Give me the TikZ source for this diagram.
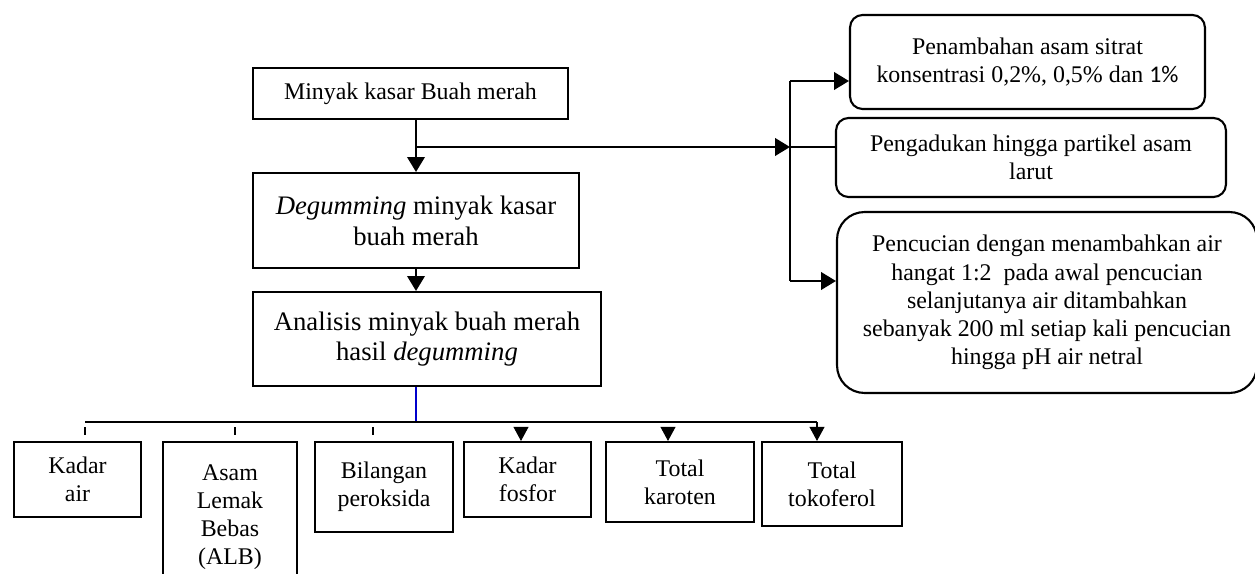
\documentclass[tikz,border=0pt]{standalone}
\usepackage{fontspec}
\setmainfont{Liberation Serif}
\newfontfamily\calibri{Carlito}
\usepackage{tikz}
\usetikzlibrary{arrows.meta, positioning}
\tikzstyle{box} = [rectangle, draw, line width=1.2pt, align=center, inner sep=2pt, font=\fontsize{13.6}{16}\selectfont]
\tikzstyle{bigbox} = [box, font=\fontsize{15.2}{17.5}\selectfont]
\tikzstyle{rbox} = [box, rounded corners=0.25cm]
\tikzstyle{line} = [draw, line width=1.1pt]
\tikzstyle{thin} = [draw, line width=0.6pt]
\tikzstyle{arr} = [line, -{Triangle[length=8.5pt, width=10pt]}]
\tikzstyle{darr} = [thin, -{Triangle[length=8pt, width=8.5pt]}]

\begin{document}
\begin{tikzpicture}[x=0.02cm, y=-0.02cm]
			\useasboundingbox (0,0) rectangle (1255,574);
			% main column
			\node [box, minimum width=6.3cm, minimum height=1.02cm] (crude) at (410.5, 93.5) {Minyak kasar Buah merah};
			\node [bigbox, minimum width=6.52cm, minimum height=1.9cm] (degum) at (416, 220.5) {\textit{Degumming} minyak kasar\\buah merah};
			\node [bigbox, minimum width=6.96cm, minimum height=1.88cm] (anl) at (427, 339) {Analisis minyak buah merah\\hasil \textit{degumming}};
			% steps on the right
			\node [rbox, minimum width=7.1cm, minimum height=1.88cm] (tambah) at (1027.5, 62) {Penambahan asam sitrat\\konsentrasi 0,2\%, 0,5\% dan {\calibri 1\%}};
			\node [rbox, minimum width=7.8cm, minimum height=1.58cm] (aduk) at (1031, 157.5) {Pengadukan hingga partikel asam\\larut};
			\node [box, rounded corners=0.55cm, minimum width=8.4cm, minimum height=3.62cm] (cuci) at (1047, 302.5) {Pencucian dengan menambahkan air\\hangat 1:2\ \ pada awal pencucian\\selanjutanya air ditambahkan\\sebanyak 200 ml setiap kali pencucian\\hingga pH air netral};
			% analyses
			\node [box, minimum width=2.54cm, minimum height=1.5cm] (air) at (77.5, 479.5) {Kadar\\air};
			\node [box, minimum width=2.68cm, minimum height=3.0cm] (alb) at (230, 517) {Asam\\Lemak\\Bebas\\(ALB)};
			\node [box, minimum width=2.76cm, minimum height=1.8cm] (pero) at (384, 487) {Bilangan\\peroksida};
			\node [box, minimum width=2.54cm, minimum height=1.5cm] (fosfor) at (527.5, 479.5) {Kadar\\fosfor};
			\node [box, minimum width=2.96cm, minimum height=1.6cm] (karoten) at (680, 482) {Total\\karoten};
			\node [box, minimum width=2.8cm, minimum height=1.68cm] (toko) at (832, 484) {Total\\tokoferol};

			\coordinate (br) at (416, 147);
			\coordinate (split) at (790, 147);
			\coordinate (s1) at (790, 81);
			\coordinate (s3) at (790, 281);
			\coordinate (hub) at (416, 422);
			\coordinate (busL) at (85, 422);
			\coordinate (busR) at (817, 422);

			\path [arr] (crude.south -| degum.north) -- (degum.north);
			\path [arr] (degum.south) -- (degum.south |- anl.north);
			\path [arr] (br) -- (split);
			\path [line] (s1) -- (s3);
			\path [arr] (s1) -- (s1 -| tambah.west);
			\path [thin] (split) -- (split -| aduk.west);
			\path [arr] (s3) -- (s3 -| cuci.west);

			\path [draw, blue!80!black, line width=0.6pt] (hub |- anl.south) -- (hub);
			\path [thin] (busL) -- (busR);
			\foreach \x/\n in {85/air, 235/alb, 373/pero}
				\path [thin] (\x, 427) -- (\x, 435);
			\foreach \x/\n in {521/fosfor, 668/karoten}
				\path [darr] (\x, 428) -- (\x, 428 |- \n.north);
			\path [darr] (busR) -- (busR |- toko.north);
		\end{tikzpicture}
\end{document}
